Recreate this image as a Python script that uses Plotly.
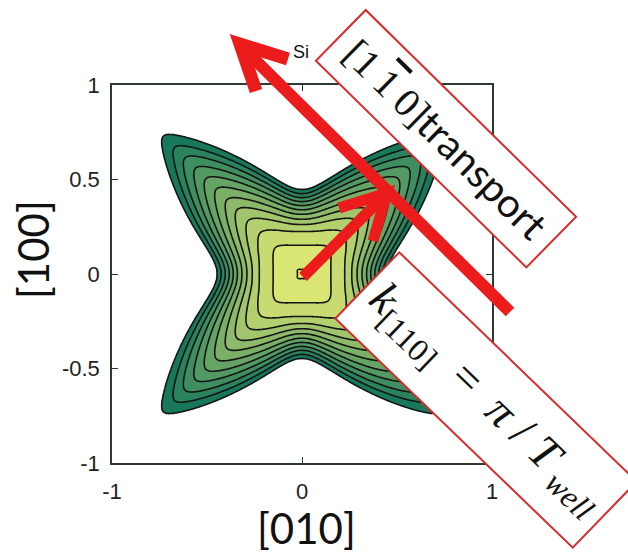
import numpy as np
import plotly.graph_objects as go

# ---------------- data ----------------
# contour lines, from the outermost (level 1) to the innermost (level 12)
contour_levels = [1, 2, 3, 4, 5, 6, 7, 8, 9, 10, 11, 12]
# distance of each line from the centre along the [100]/[010] axes
axis_radius = [0.446, 0.425, 0.404, 0.383, 0.362, 0.340, 0.316, 0.290, 0.262, 0.225, 0.153, 0.022]
# |x| = |y| coordinate where each line crosses the diagonals
diag_coord = [0.730, 0.670, 0.615, 0.560, 0.505, 0.450, 0.394, 0.341, 0.283, 0.219, 0.140, 0.022]
# how quickly each line falls back from the arm tip to the axis notch
arm_exponent = [2.0, 2.0, 2.05, 2.05, 2.1, 2.1, 2.15, 2.2, 2.25, 2.3, 2.3, 2.3]
# rounding of the arm tips / square corners (deg)
tip_round_deg = [2, 2, 2.5, 2.5, 3, 3, 3.5, 4, 5, 6, 8, 6]

x_ticks = [-1, 0, 1]
x_ticklabels = ["-1", "0", "1"]
y_ticks = [-1, -0.5, 0, 0.5, 1]
y_ticklabels = ["-1", "-0.5", "0", "0.5", "1"]
x_title = "[010]"
y_title = "[100]"
label_si = "Si"
box1_text = ('<span style="font-family:Liberation Serif">[1\u2009<span style="text-decoration:overline">1</span>\u20090]</span>'
             'transport')
box2_text = ('<i>k</i><sub>[110]</sub>\u00a0\u00a0=\u00a0\u00a0<i>\u03c0</i>\u00a0/\u00a0<i>T</i><sub>\u00a0<i>well</i></sub>')

# ---------------- build the z grid from the read arrays ----------------
n = 321
xs = np.linspace(-1, 1, n)
ys = np.linspace(-1, 1, n)
X, Y = np.meshgrid(xs, ys)
r = np.hypot(X, Y)
theta = np.degrees(np.arctan2(Y, X))
delta = np.abs(np.mod(theta, 90.0) - 45.0)  # 0 on diagonals, 45 on axes

R = []
for a, d, p, d0 in zip(axis_radius, diag_coord, arm_exponent, tip_round_deg):
    D = d * np.sqrt(2)
    ds = np.sqrt(delta ** 2 + d0 ** 2) - d0
    dmax = np.sqrt(45.0 ** 2 + d0 ** 2) - d0
    u = np.clip(1 - ds / dmax, 0, 1)
    R.append(a + (D - a) * u ** p)
R = np.array(R)

nl = len(contour_levels)
Z = np.empty_like(r)
outside = r >= R[0]
Z[outside] = contour_levels[0] - (r[outside] - R[0][outside]) / 0.05
for k in range(nl - 1):
    m = (r < R[k]) & (r >= R[k + 1])
    t = (R[k][m] - r[m]) / (R[k][m] - R[k + 1][m])
    Z[m] = contour_levels[k] + t * (contour_levels[k + 1] - contour_levels[k])
inner = r < R[-1]
Z[inner] = contour_levels[-1] + (R[-1][inner] - r[inner]) / R[-1][inner]

# colours: white outside, then summer-like green -> yellow
c0 = np.array([24, 120, 92])
c1 = np.array([238, 241, 118])
cs = [[0.0, "white"]]
for i in range(1, nl + 1):
    t = (i - 1) / (nl - 1)
    c = c0 + (c1 - c0) * t
    cs.append([i / nl, "rgb(%d,%d,%d)" % tuple(c)])

fig = go.Figure()
fig.add_trace(go.Contour(
    x=xs, y=ys, z=Z,
    autocontour=False,
    contours=dict(start=contour_levels[0], end=contour_levels[-1], size=1, coloring="fill"),
    colorscale=cs, showscale=False,
    line=dict(color="#141414", width=1.6, smoothing=1),
    hoverinfo="skip",
))

# ---------------- layout ----------------
L_, R_, T_, B_ = 112, 136, 85, 92
W, H = 628, 555
PW, PH = W - L_ - R_, H - T_ - B_


def pp(px, py):
    return (px - L_) / PW, (H - B_ - py) / PH


def path(points):
    s = ""
    for i, (px, py) in enumerate(points):
        x, y = pp(px, py)
        s += ("M" if i == 0 else "L") + " %.5f %.5f " % (x, y)
    return s.strip()


axcol = "#2d3a31"
common_axis = dict(showline=True, linecolor=axcol, linewidth=1.5, mirror="ticks",
                   ticks="inside", ticklen=6, tickwidth=1.3, tickcolor=axcol,
                   showgrid=False, zeroline=False, range=[-1, 1],
                   tickfont=dict(family="Liberation Sans", size=22, color="#222"))

fig.update_layout(
    width=W, height=H,
    margin=dict(l=L_, r=R_, t=T_, b=B_),
    paper_bgcolor="white", plot_bgcolor="white",
    xaxis=dict(tickvals=x_ticks, ticktext=x_ticklabels, ticklabelstandoff=8, **common_axis),
    yaxis=dict(tickvals=y_ticks, ticktext=y_ticklabels, ticklabelstandoff=6, **common_axis),
    showlegend=False,
)

red = "#ec1c1c"
shapes = []
# big transport arrow
shapes.append(dict(type="path", xref="paper", yref="paper", path=path([(510, 312), (243, 48)]),
                   line=dict(color=red, width=12)))
shapes.append(dict(type="path", xref="paper", yref="paper", path=path([(288, 59), (240, 44), (256, 91)]),
                   line=dict(color=red, width=13)))
# small k arrow
shapes.append(dict(type="path", xref="paper", yref="paper", path=path([(303, 277), (384, 196)]),
                   line=dict(color=red, width=11)))
shapes.append(dict(type="path", xref="paper", yref="paper", path=path([(339, 208), (387, 193), (373, 241)]),
                   line=dict(color=red, width=11)))
fig.update_layout(shapes=shapes)

ann = []


def add_ann(px, py, text, **kw):
    x, y = pp(px, py)
    d = dict(x=x, y=y, xref="paper", yref="paper", text=text, showarrow=False,
             xanchor="center", yanchor="middle")
    d.update(kw)
    ann.append(d)


add_ann(33, 250, y_title, textangle=-90, font=dict(family="Lato", size=42, color="#111"))
add_ann(306, 528, x_title, font=dict(family="Lato", size=42, color="#111"))
add_ann(301, 52, label_si, font=dict(family="Liberation Sans", size=18, color="#111"))
add_ann(446, 138, box1_text, textangle=44.5, width=291, height=67, bgcolor="white",
        bordercolor="#d92b2b", borderwidth=2, borderpad=1,
        font=dict(family="Lato", size=40, color="#111"))
add_ann(486, 400, box2_text, textangle=44, width=326, height=88, bgcolor="white",
        bordercolor="#d92b2b", borderwidth=2, borderpad=1,
        font=dict(family="Liberation Serif", size=46, color="#111"))
fig.update_layout(annotations=ann)

fig.write_html("out.html")
